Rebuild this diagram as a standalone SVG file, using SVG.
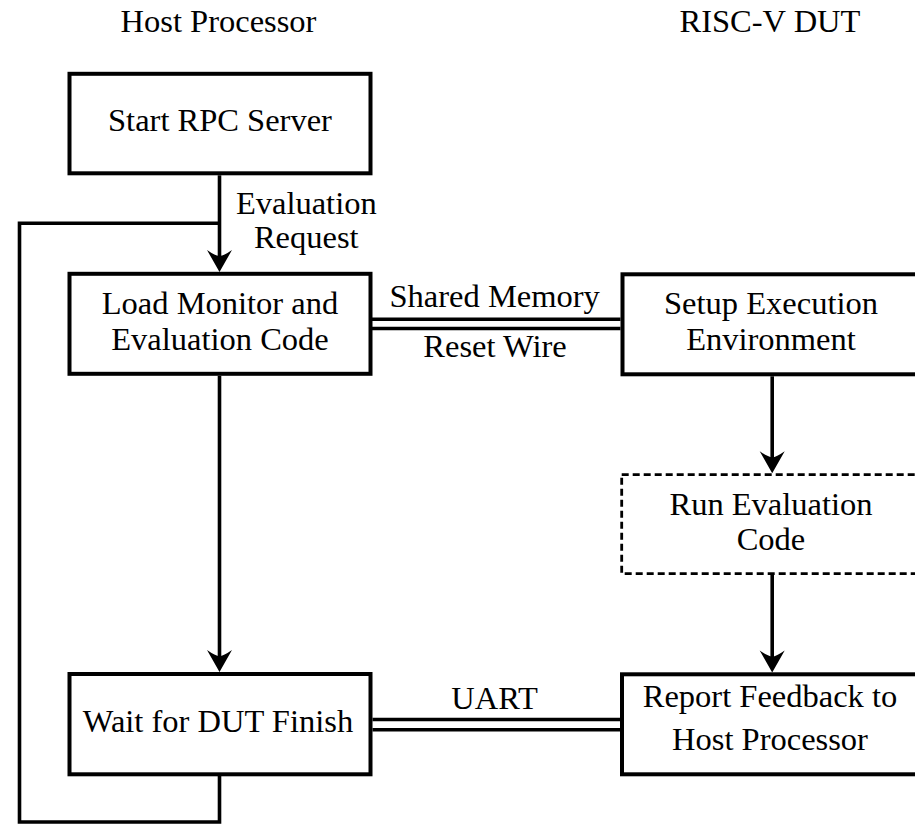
<svg xmlns="http://www.w3.org/2000/svg" width="915" height="825" viewBox="0 0 915 825">
<defs>
<style>
text{font-family:'Liberation Serif','Tinos','DejaVu Serif','Noto Serif',serif;font-size:32.5px;fill:#000;text-anchor:middle}
.box{fill:#fff;stroke:#000;stroke-width:4}
.dash{fill:#fff;stroke:#000;stroke-width:2.8;stroke-dasharray:7 4}
.con{fill:none;stroke:#000;stroke-width:3.6}
.dbl{fill:none;stroke:#000;stroke-width:3.6}
</style>
<marker id="arr" markerUnits="userSpaceOnUse" viewBox="-24 -14 34 28" refX="-8" refY="0" markerWidth="34" markerHeight="28" orient="auto">
<path d="M0,0 L-22,-12.5 Q-16,-4 -16,0 Q-16,4 -22,12.5 Z" fill="#000"/>
</marker>
</defs>
<g id="titles" font-family="Liberation Serif, DejaVu Serif, serif">
<text x="218.5" y="32">Host Processor</text>
<text x="770" y="32">RISC-V DUT</text>
</g>
<g id="connectors">
<path class="con" d="M219.5 175.3 V264" marker-end="url(#arr)"/>
<path class="con" d="M219.5 776 V822 H19.5 V223.3 H219.5"/>
<path class="con" d="M219.5 375.8 V664" marker-end="url(#arr)"/>
<path class="con" d="M772.2 376.3 V465.3" marker-end="url(#arr)"/>
<path class="con" d="M772.2 575 V664.5" marker-end="url(#arr)"/>
<path class="dbl" d="M372 319.2 H620.5 M372 328.5 H620.5"/>
<path class="dbl" d="M372.5 719.5 H620 M372.5 729.7 H620"/>
<text x="306.3" y="214">Evaluation</text>
<text x="306.3" y="248">Request</text>
<text x="494.7" y="306.7">Shared Memory</text>
<text x="495" y="356.7">Reset Wire</text>
<text x="494.5" y="709">UART</text>
</g>
<g id="start">
<rect class="box" x="69.5" y="73.8" width="301" height="99.5"/>
<text x="220" y="131">Start RPC Server</text>
</g>
<g id="load">
<rect class="box" x="69.5" y="273.8" width="301" height="100"/>
<text x="220" y="314">Load Monitor and</text>
<text x="220" y="350">Evaluation Code</text>
</g>
<g id="wait">
<rect class="box" x="69.5" y="674" width="301" height="100.3"/>
<text x="218" y="731.7">Wait for DUT Finish</text>
</g>
<g id="setup">
<rect class="box" x="622.5" y="274.3" width="301" height="100"/>
<text x="771" y="314">Setup Execution</text>
<text x="771" y="350">Environment</text>
</g>
<g id="run">
<rect class="dash" x="621.7" y="474.7" width="302" height="99"/>
<text x="771" y="515">Run Evaluation</text>
<text x="771" y="550">Code</text>
</g>
<g id="report">
<rect class="box" x="622" y="674.3" width="301" height="100"/>
<text x="770" y="706.7">Report Feedback to</text>
<text x="770" y="750">Host Processor</text>
</g>
</svg>
